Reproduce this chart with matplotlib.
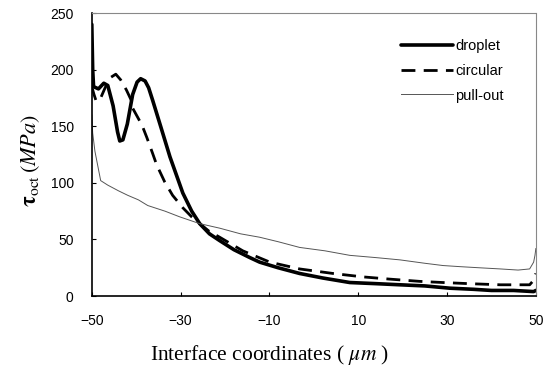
import matplotlib
matplotlib.use("Agg")
import matplotlib.pyplot as plt

plt.rcParams['mathtext.fontset'] = 'stix'
plt.rcParams['font.family'] = ['Liberation Sans', 'DejaVu Sans']

# droplet (thick solid)
x_drop = [-50, -49.8, -49.6, -48.5, -47.3, -46.4, -45.2, -44.2, -43.7, -43.0, -42.0,
          -40.8, -39.8, -39.0, -38.0, -37.2, -36.3, -34.5, -32.4, -29.5, -27.5, -25.7,
          -23.5, -21.2, -18.0, -14.4, -12.2, -8.0, -3.2, 2.0, 8.1, 14.0, 19.4, 25.0,
          30.6, 36.0, 40.0, 45.0, 49.5, 50]
y_drop = [240, 200, 185, 183, 188, 186, 168, 145, 137, 138, 152,
          178, 189, 192, 190, 184, 173, 150, 123, 91, 75, 64,
          55, 49, 41, 34, 30, 25, 20, 16, 12, 11, 10, 9,
          7, 6, 5, 5, 4, 5]

# circular (dashed)
x_circ = [-50, -49.5, -49.0, -48.0, -47.0, -45.8, -44.6, -43.5, -42.2, -41.0, -40.8,
          -38.7, -37.6, -36.3, -35.4, -33.6, -31.8, -29.5, -27.5, -25.7, -23.5, -21.2,
          -16.0, -9.9, -3.2, 4.3, 11.0, 17.1, 23.9, 29.1, 35.0, 42.0, 48.6, 49.5, 50]
y_circ = [185, 178, 172, 175, 184, 193, 196, 191, 182, 172, 166,
          151, 140, 126, 116, 101, 89, 78, 70, 64, 57, 52,
          40, 30, 24, 20, 17, 15, 13, 12, 11, 10, 10, 14, 20]

# pull-out (thin)
x_pull = [-50, -49.8, -49.3, -48.6, -48.0, -47.2, -46.4, -44.0, -41.9, -39.5, -37.4,
          -33.5, -30.2, -25.7, -21.2, -16.5, -12.2, -8.0, -3.2, 2.5, 8.1, 14.0,
          19.4, 25.0, 29.1, 33.0, 37.4, 42.0, 46.0, 48.6, 49.5, 49.8, 50]
y_pull = [160, 144, 128, 114, 102, 100, 98, 93, 89, 85, 80,
          75, 70, 64, 60, 55, 52, 48, 43, 40, 36, 34,
          32, 29, 27, 26, 25, 24, 23, 24, 30, 36, 42]

fig = plt.figure(figsize=(5.53, 3.72), dpi=100)
ax = fig.add_axes([0.166, 0.204, 0.803, 0.761])

ax.plot(x_drop, y_drop, color='black', lw=2.6, label='droplet', solid_capstyle='round')
ax.plot(x_circ, y_circ, color='black', lw=2.0, dashes=(5, 3), label='circular')
ax.plot(x_pull, y_pull, color='#555555', lw=0.7, label='pull-out')

ax.set_xlim(-50, 50)
ax.set_ylim(0, 250)
ax.set_xticks([-50, -30, -10, 10, 30, 50])
ax.set_yticks([0, 50, 100, 150, 200, 250])
ax.tick_params(direction='in', length=3, width=0.8, labelsize=10, pad=13)

for s in ['top', 'right']:
    ax.spines[s].set_color('#888888')
    ax.spines[s].set_linewidth(0.8)
    ax.spines[s].set_linestyle((0, (1, 1)))
for s in ['left', 'bottom']:
    ax.spines[s].set_linewidth(1.2)

ax.set_ylabel(r'$\mathbf{\tau}_{\rm oct}\,(MPa)$', fontsize=16)
ax.yaxis.set_label_coords(-0.113, 0.48)
ax.set_xlabel(r'Interface coordinates ( $\mu m$ )', fontsize=15.5,
              family=['Liberation Serif', 'DejaVu Serif'])
ax.xaxis.set_label_coords(0.40, -0.165)

leg = ax.legend(loc='upper right', bbox_to_anchor=(0.94, 0.93), frameon=False,
                fontsize=10.5, handlelength=3.6, handletextpad=0.1, labelspacing=0.75,
                borderaxespad=0)

fig.savefig('out.png', dpi=100)
